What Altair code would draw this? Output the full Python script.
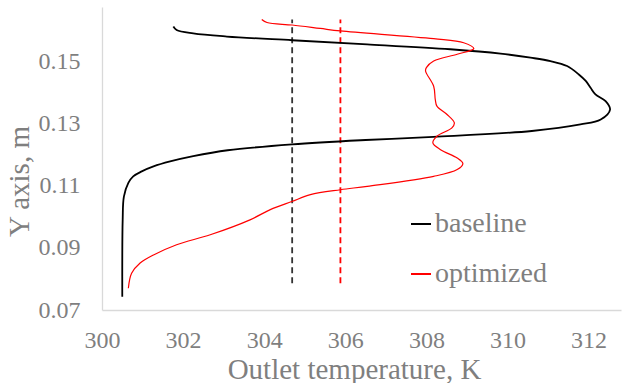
import altair as alt
import pandas as pd

# Baseline profile (temperature K, height m), ordered along the curve
base_t = [300.50, 300.51, 300.54, 300.65, 300.77, 300.98, 301.27, 301.68, 302.25, 303.10,
          304.69, 306.50, 308.18, 310.60, 311.80, 312.30, 312.53, 312.42, 312.17, 312.05,
          311.93, 311.76, 311.47, 311.06, 310.57, 309.83, 308.59, 306.54, 304.69, 303.08,
          302.25, 301.84, 301.76]
base_y = [0.0743, 0.0990, 0.1065, 0.1109, 0.1130, 0.1146, 0.1162, 0.1178, 0.1195, 0.1214,
          0.1233, 0.1247, 0.1257, 0.1276, 0.1297, 0.1313, 0.1345, 0.1372, 0.1394, 0.1415,
          0.1437, 0.1458, 0.1485, 0.1501, 0.1512, 0.1525, 0.1539, 0.1555, 0.1568, 0.1580,
          0.1590, 0.1601, 0.1612]

# Optimized profile
opt_t = [300.65, 300.73, 300.94, 301.27, 301.84, 302.67, 303.65, 304.15, 304.68, 305.14,
         305.88, 306.54, 308.18, 308.76, 308.90, 308.76, 308.35, 308.16, 308.26, 308.63,
         308.69, 308.51, 308.26, 308.22, 308.18, 307.98, 308.00, 308.18, 308.76, 309.17,
         308.92, 308.18, 305.88, 305.38, 304.69, 304.07, 303.94]
opt_y = [0.0770, 0.0818, 0.0851, 0.0877, 0.0910, 0.0942, 0.0990, 0.1023, 0.1049, 0.1071,
         0.1087, 0.1098, 0.1130, 0.1152, 0.1171, 0.1189, 0.1216, 0.1238, 0.1259, 0.1286,
         0.1302, 0.1329, 0.1356, 0.1377, 0.1420, 0.1469, 0.1480, 0.1501, 0.1523, 0.1541,
         0.1560, 0.1573, 0.1598, 0.1606, 0.1617, 0.1625, 0.1635]

# Mean outlet temperatures (dashed verticals)
mean_series = ["baseline", "optimized"]
mean_t = [304.69, 305.88]
mean_y0 = [0.0786, 0.0786]
mean_y1 = [0.1635, 0.1635]

series_names = ["baseline", "optimized"]
series_colors = ["#000000", "#ff0000"]
x_ticks = [300, 302, 304, 306, 308, 310, 312]
y_ticks = [0.07, 0.09, 0.11, 0.13, 0.15]

rows = []
for i, (t, y) in enumerate(zip(base_t, base_y)):
    rows.append({"series": "baseline", "i": i, "T": t, "Y": y})
for i, (t, y) in enumerate(zip(opt_t, opt_y)):
    rows.append({"series": "optimized", "i": i, "T": t, "Y": y})
df = pd.DataFrame(rows)

mean_df = pd.DataFrame({"series": mean_series, "T": mean_t, "y0": mean_y0, "y1": mean_y1})

FONT = "Liberation Serif"
GRAY = "#7f7f7f"

xscale = alt.Scale(domain=[300, 312.8], nice=False, zero=False)
yscale = alt.Scale(domain=[0.07, 0.1675], nice=False, zero=False)

color = alt.Color(
    "series:N",
    scale=alt.Scale(domain=series_names, range=series_colors),
    legend=alt.Legend(
        title=None, orient="none", legendX=305, legendY=203,
        symbolType="stroke", symbolSize=400, symbolStrokeWidth=2,
        labelFont=FONT, labelFontSize=28, labelColor=GRAY,
        labelOffset=0, rowPadding=22, padding=0,
    ),
)

lines = alt.Chart(df).mark_line(interpolate="catmull-rom").encode(
    x=alt.X("T:Q", scale=xscale,
            axis=alt.Axis(values=x_ticks, title="Outlet temperature, K", format="d",
                          labelPadding=18, labelFlush=False,
                          titleX=252, titleY=68, titleBaseline="alphabetic",
                          titleAlign="center")),
    y=alt.Y("Y:Q", scale=yscale,
            axis=alt.Axis(values=y_ticks, title="Y axis, m", format=".2f",
                          labelPadding=22, labelFlush=False,
                          titleX=-74, titleY=174, titleAngle=270,
                          titleBaseline="alphabetic", titleAlign="center")),
    color=color,
    order="i:Q",
    strokeWidth=alt.StrokeWidth("series:N",
                                scale=alt.Scale(domain=series_names, range=[1.8, 1.2]),
                                legend=None),
)

rules = alt.Chart(mean_df).mark_rule(strokeDash=[6, 4], strokeWidth=1.8).encode(
    x=alt.X("T:Q", scale=xscale),
    y=alt.Y("y0:Q", scale=yscale),
    y2="y1:Q",
    color=alt.Color("series:N",
                    scale=alt.Scale(domain=series_names, range=["#333333", "#ff0000"]),
                    legend=None),
)

chart = alt.layer(rules, lines).resolve_scale(color="independent").properties(
    width=519, height=303,
    autosize=alt.AutoSizeParams(type="none"),
    padding={"left": 102, "top": 7, "right": 1, "bottom": 73},
).configure_view(strokeWidth=0).configure_axis(
    grid=False, ticks=False, tickSize=0,
    domainColor="#d9d9d9", domainWidth=1.3,
    labelFont=FONT, labelFontSize=24, labelColor=GRAY,
    titleFont=FONT, titleFontSize=29, titleColor=GRAY, titleFontWeight="normal",
)

chart.save("out.html", embed_options={"renderer": "svg", "actions": False})
